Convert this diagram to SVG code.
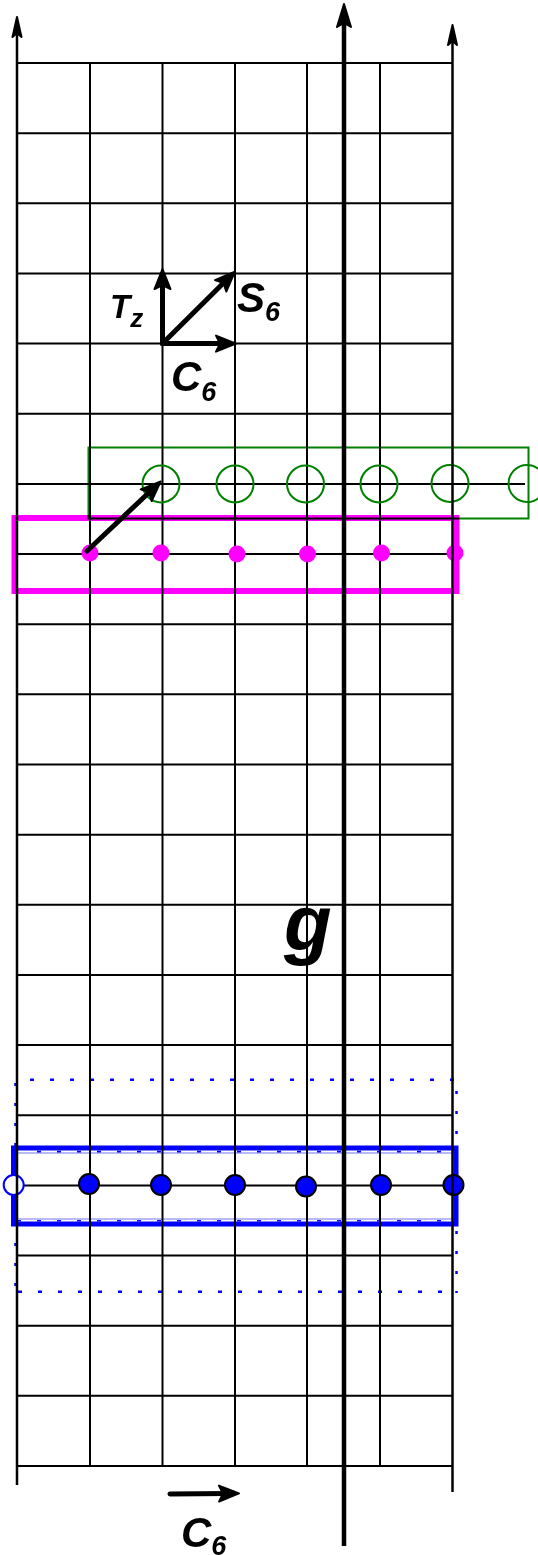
<svg xmlns="http://www.w3.org/2000/svg" width="538" height="1555" viewBox="0 0 538 1555">
<style>
.grid{stroke:#000;stroke-width:2;fill:none}
.axis{stroke:#000;stroke-width:2.5;fill:none}
.vec{stroke:#000;stroke-width:5;fill:none;stroke-linecap:round}
.head{fill:#000;stroke:#000;stroke-width:2;stroke-linejoin:round}
.band{fill:none;mix-blend-mode:multiply}
.lbl{font-family:"Liberation Sans",Arial,sans-serif;font-weight:bold;font-style:italic;fill:#000}
.ring{fill:none;stroke:#008000;stroke-width:2}
.mdot{fill:#ff00ff}
.bdot{fill:#0000ff;stroke:#000;stroke-width:2}
.dots{stroke:#0000ff;stroke-width:2.5;fill:none}
</style>
<defs>
<marker id="ah" markerUnits="userSpaceOnUse" orient="auto" markerWidth="30" markerHeight="24" refX="10" refY="9" overflow="visible"><path class="head" d="M1,1 L21,9 L1,17 L5,9 Z"/></marker>
<marker id="ax" markerUnits="userSpaceOnUse" orient="auto" markerWidth="30" markerHeight="20" refX="10" refY="5.5" overflow="visible"><path class="head" d="M1,1 L21,5.5 L1,10 L5,5.5 Z" stroke-width="1.5"/></marker>
<marker id="axb" markerUnits="userSpaceOnUse" orient="auto" markerWidth="30" markerHeight="20" refX="10" refY="8" overflow="visible"><path class="head" d="M1,1 L24,8 L1,15 L5,8 Z"/></marker>
</defs>
<rect width="538" height="1555" fill="#fff"/>
<g id="grid" class="grid">
<path d="M17,63 H452 M17,133.15 H452 M17,203.3 H452 M17,273.45 H452 M17,343.6 H452 M17,413.75 H452 M17,483.9 H525 M17,554.05 H452 M17,624.2 H452 M17,694.35 H452 M17,764.5 H452 M17,834.65 H452 M17,904.8 H452 M17,974.95 H452 M17,1045.1 H452 M17,1115.25 H452 M17,1185.4 H452 M17,1255.55 H452 M17,1325.7 H452 M17,1395.85 H452 M17,1466 H452"/>
<path d="M90,63 V1466 M162.5,63 V1466 M235,63 V1466 M307,63 V1466 M380,63 V1466"/>
</g>
<g id="green-row">
<rect class="band" x="88.5" y="447.5" width="440" height="71" stroke="#008000" stroke-width="2"/>
<circle class="ring" cx="161" cy="484" r="18.5"/>
<circle class="ring" cx="235" cy="484" r="18.5"/>
<circle class="ring" cx="305.5" cy="484" r="18.5"/>
<circle class="ring" cx="379" cy="484" r="18.5"/>
<circle class="ring" cx="450" cy="483.5" r="18.5"/>
<circle class="ring" cx="527" cy="483.5" r="18.5"/>
</g>
<g id="magenta-row">
<rect class="band" x="14.5" y="518" width="442" height="73" stroke="#ff00ff" stroke-width="6"/>
<circle class="mdot" cx="90" cy="553" r="8.5"/>
<circle class="mdot" cx="161" cy="553" r="8.5"/>
<circle class="mdot" cx="237" cy="554" r="8.5"/>
<circle class="mdot" cx="307.5" cy="554" r="8.5"/>
<circle class="mdot" cx="381.5" cy="553" r="8.5"/>
<circle class="mdot" cx="455" cy="553" r="8.5"/>
</g>
<g id="blue-row">
<g class="band">
<path class="dots" d="M30,1079.7 H455" stroke-dasharray="4 16"/>
<path class="dots" d="M18,1291.7 H456" stroke-dasharray="4 16"/>
<path class="dots" d="M15.5,1083 V1292" stroke-dasharray="3 17"/>
<path class="dots" d="M456.5,1091 V1293" stroke-dasharray="3 17"/>
<rect x="13.5" y="1148" width="442.5" height="76" fill="none" stroke="#0000ff" stroke-width="5"/>
<path d="M37,1151.6 H456 M17,1220.8 H456" stroke="#0000ff" stroke-width="1.6" stroke-dasharray="4 16"/>
<path d="M16,1153 H456 M16,1219 H456" stroke="#0000ff" stroke-opacity="0.55" stroke-width="1"/>
</g>
<circle cx="13.7" cy="1185" r="10" fill="#fff" stroke="#0000ff" stroke-width="2"/>
<circle class="bdot" cx="89" cy="1184" r="10"/>
<circle class="bdot" cx="161" cy="1185" r="10"/>
<circle class="bdot" cx="235" cy="1185" r="10"/>
<circle class="bdot" cx="306" cy="1186.5" r="10"/>
<circle class="bdot" cx="381" cy="1185" r="10"/>
<circle class="bdot" cx="453.5" cy="1185" r="10"/>
</g>
<g id="connectors">
<line class="axis" x1="17" y1="1485" x2="17" y2="28" marker-end="url(#ax)"/>
<line class="axis" x1="452.5" y1="1492" x2="452.5" y2="36" marker-end="url(#ax)"/>
<line x1="344" y1="1546" x2="344" y2="18" stroke="#000" stroke-width="4.5" marker-end="url(#axb)"/>
<line class="vec" x1="162.5" y1="343.6" x2="162.5" y2="280" marker-end="url(#ah)"/>
<line class="vec" x1="162.5" y1="343.6" x2="227" y2="279.5" marker-end="url(#ah)"/>
<line class="vec" x1="162.5" y1="343.6" x2="225" y2="343.6" marker-end="url(#ah)"/>
<line class="vec" x1="87" y1="551" x2="152.7" y2="489" marker-end="url(#ah)"/>
<line class="vec" x1="170" y1="1494" x2="228" y2="1493.5" marker-end="url(#ah)"/>
</g>
<g id="labels">
<text class="lbl" x="110" y="318" font-size="33">T<tspan font-size="26" dy="9">z</tspan></text>
<text class="lbl" x="237" y="312" font-size="42">S<tspan font-size="27" dy="9">6</tspan></text>
<text class="lbl" x="171" y="391" font-size="42">C<tspan font-size="27" dy="10">6</tspan></text>
<text class="lbl" x="284" y="950" font-size="78">g</text>
<text class="lbl" x="181" y="1547" font-size="42">C<tspan font-size="27" dy="8">6</tspan></text>
</g>
</svg>
